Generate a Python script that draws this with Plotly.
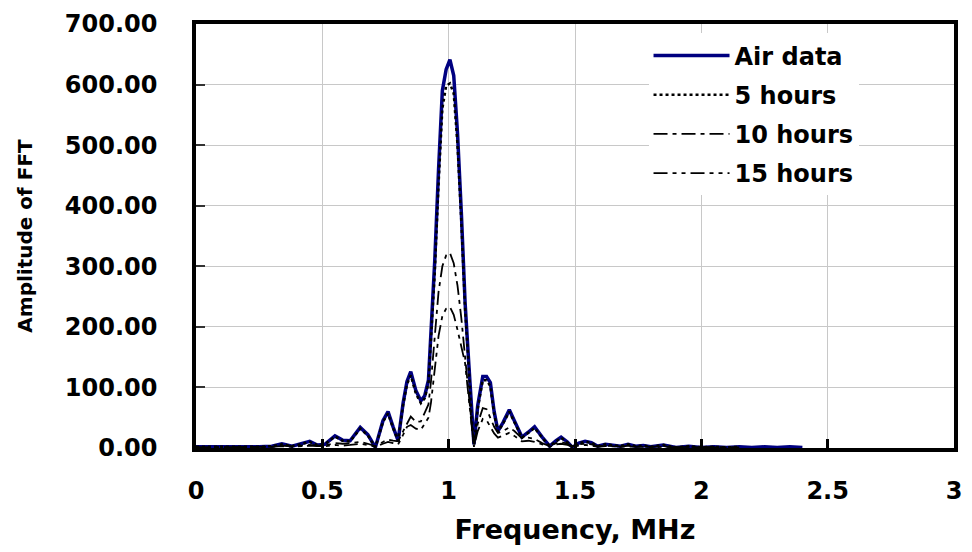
import plotly.graph_objects as go

freq = [0.00, 0.05, 0.10, 0.15, 0.20, 0.25, 0.30, 0.34, 0.38, 0.42, 0.45, 0.48, 0.51, 0.55, 0.58, 0.61,
        0.65, 0.68, 0.71, 0.74, 0.76, 0.78, 0.80, 0.82, 0.835, 0.85, 0.87, 0.89, 0.905, 0.92, 0.93, 0.945,
        0.96, 0.975, 0.99, 1.005, 1.02, 1.035, 1.05, 1.065, 1.08, 1.09, 1.10, 1.115, 1.135, 1.15, 1.165,
        1.18, 1.195, 1.215, 1.24, 1.26, 1.29, 1.315, 1.34, 1.37, 1.40, 1.425, 1.445, 1.47, 1.49, 1.515,
        1.54, 1.565, 1.59, 1.62, 1.65, 1.68, 1.71, 1.74, 1.77, 1.80, 1.85, 1.90, 1.95, 2.00, 2.05, 2.10,
        2.15, 2.20, 2.25, 2.30, 2.35, 2.40]

air_data = [2, 2, 1, 2, 1, 2, 3, 7, 3, 8, 11, 5, 6, 20, 13, 12,
            34, 22, 1, 45, 60, 35, 12, 75, 110, 126, 95, 78, 86, 112, 192, 310,
            460, 590, 625, 641, 615, 520, 390, 240, 137, 60, 6, 70, 118, 118, 108,
            60, 28, 42, 63, 45, 18, 26, 35, 18, 3, 12, 18, 10, 1, 8,
            11, 9, 3, 6, 5, 3, 6, 3, 4, 2, 5, 1, 3, 1, 2, 1,
            2, 1, 2, 1, 2, 1]

hours_5 = [2, 2, 1, 2, 1, 2, 3, 6, 3, 7, 10, 5, 6, 19, 12, 11,
           32, 21, 1, 43, 57, 33, 12, 72, 105, 120, 90, 74, 82, 106, 180, 290,
           435, 560, 598, 602, 585, 500, 375, 230, 130, 55, 5, 65, 112, 112, 102,
           56, 27, 40, 60, 43, 17, 25, 33, 17, 3, 11, 17, 9, 1, 8,
           10, 9, 3, 6, 5, 3, 6, 3, 4, 2, 5, 1, 3, 1, 2, 1,
           2, None, None, None, None, None]

hours_10 = [1, 1, 1, 1, 1, 2, 2, 4, 3, 4, 5, 4, 4, 8, 7, 8,
            10, 7, 3, 10, 14, 12, 11, 28, 41, 52, 43, 44, 58, 72, 110, 190,
            258, 300, 318, 322, 305, 268, 215, 150, 85, 40, 3, 40, 66, 64, 50,
            35, 25, 28, 34, 28, 16, 17, 15, 8, 3, 8, 10, 7, 3, 6,
            7, 6, 3, 4, 4, 2, 4, 2, 3, 2, 3, 1, 2, 1, 2, 1,
            1, None, None, None, None, None]

hours_15 = [1, 1, 1, 1, 1, 1, 2, 3, 2, 3, 4, 3, 3, 5, 4, 5,
            7, 5, 2, 7, 10, 8, 6, 22, 35, 38, 32, 30, 40, 50, 75, 130,
            185, 218, 230, 233, 220, 195, 165, 140, 80, 35, 2, 28, 48, 46, 36,
            24, 17, 20, 25, 20, 11, 12, 10, 6, 2, 6, 7, 5, 2, 4,
            5, 4, 2, 3, 3, 2, 3, 2, 2, 1, 2, 1, 2, 1, 1, 1,
            1, None, None, None, None, None]

x_ticks = [0, 0.5, 1, 1.5, 2, 2.5, 3]
x_tick_text = ["0", "0.5", "1", "1.5", "2", "2.5", "3"]
y_ticks = [0, 100, 200, 300, 400, 500, 600, 700]

series = [
    ("Air data", air_data, dict(color="#000080", width=3.5, dash="solid")),
    ("5 hours", hours_5, dict(color="black", width=2.5, dash="dot")),
    ("10 hours", hours_10, dict(color="black", width=1.8, dash="14px,5px,4px,5px")),
    ("15 hours", hours_15, dict(color="black", width=1.8, dash="14px,5px,4px,5px,4px,5px")),
]

fig = go.Figure()
for i, (name, vals, line) in enumerate(series):
    fig.add_trace(go.Scatter(x=freq, y=vals, mode="lines", name=name, line=line,
                             legendgroup=name, connectgaps=False))

tick_font = dict(family="DejaVu Sans", size=24, color="black", weight="bold")

fig.update_layout(
    width=972, height=552,
    margin=dict(l=196, r=10, t=20, b=104),
    paper_bgcolor="white", plot_bgcolor="white",
    showlegend=True,
    legend=dict(x=0.597, y=0.978, xanchor="left", yanchor="top",
                bgcolor="white", borderwidth=0,
                font=dict(family="DejaVu Sans", size=24, color="black", weight="bold"),
                itemwidth=76, traceorder="grouped", tracegroupgap=5),
    xaxis=dict(range=[0, 3], tickvals=x_ticks, ticktext=x_tick_text,
               showgrid=True, gridcolor="#c8c8c8", gridwidth=1,
               showline=True, linecolor="black", linewidth=3.5, mirror=True,
               ticks="inside", ticklen=9, tickwidth=3, tickcolor="black",
               tickfont=tick_font, ticklabelstandoff=18, zeroline=False,
               title=dict(text="Frequency, MHz",
                          font=dict(family="DejaVu Sans", size=27, color="black", weight="bold"),
                          standoff=18)),
    yaxis=dict(range=[0, 700], tickvals=y_ticks, tickformat=".2f",
               showgrid=True, gridcolor="#c8c8c8", gridwidth=1,
               showline=True, linecolor="black", linewidth=3.5, mirror=True,
               ticks="inside", ticklen=9, tickwidth=2, tickcolor="#333333",
               tickfont=tick_font, ticklabelstandoff=30, zeroline=False,
               title=dict(text="Amplitude of FFT",
                          font=dict(family="DejaVu Sans", size=20, color="black", weight="bold"),
                          standoff=28)),
)

fig.write_html("out.html")
